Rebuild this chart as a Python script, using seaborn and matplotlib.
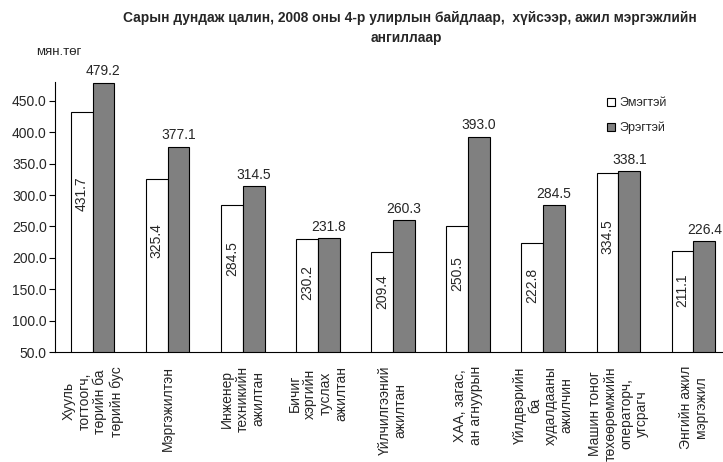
import matplotlib
matplotlib.use("Agg")
import matplotlib.pyplot as plt
import seaborn as sns
import pandas as pd
from matplotlib.patches import Patch

categories = [
    "Хууль\nтогтоогч,\nтөрийн ба\nтөрийн бус",
    "Мэргэжилтэн",
    "Инженер\nтехникийн\nажилтан",
    "Бичиг\nхэргийн\nтуслах\nажилтан",
    "Үйлчилгээний\nажилтан",
    "ХАА, загас,\nан агнуурын",
    "Үйлдвэрийн\nба\nхудалдааны\nажилчин",
    "Машин тоног\nтөхөөрөмжийн\nоператорч,\nугсрагч",
    "Энгийн ажил\nмэргэжил",
]
female = [431.7, 325.4, 284.5, 230.2, 209.4, 250.5, 222.8, 334.5, 211.1]
male = [479.2, 377.1, 314.5, 231.8, 260.3, 393.0, 284.5, 338.1, 226.4]
series = ["Эмэгтэй", "Эрэгтэй"]
yticks = [50, 100, 150, 200, 250, 300, 350, 400, 450]

sns.set_theme(style="white")
plt.rcParams["font.family"] = ["Liberation Sans", "DejaVu Sans"]

df = pd.DataFrame({
    "cat": categories * 2,
    "val": female + male,
    "sex": [series[0]] * len(categories) + [series[1]] * len(categories),
})

fig = plt.figure(figsize=(7.23, 4.62), dpi=100)
ax = fig.add_axes([55 / 723, 1 - 352 / 462, (731 - 55) / 723, (352 - 82) / 462])

sns.barplot(data=df, x="cat", y="val", hue="sex", hue_order=series,
            order=categories, palette={series[0]: "white", series[1]: "#808080"},
            saturation=1, edgecolor="black", linewidth=0.8, width=0.58,
            ax=ax, legend=False, err_kws={"linewidth": 0})

ax.set_ylim(50, 480)
ax.set_xlim(-0.5, len(categories) - 0.5)
ax.set_yticks(yticks)
ax.set_yticklabels([f"{v:.1f}" for v in yticks], fontsize=10)
ax.set_xlabel("")
ax.set_ylabel("")

ax.set_xticks(range(len(categories)))
ax.set_xticklabels(categories, rotation=90, fontsize=10, multialignment="center",
                   linespacing=1.15)
ax.tick_params(axis="x", which="major", length=0, pad=10)
ax.set_xticks([i + 0.5 for i in range(len(categories))], minor=True)
ax.tick_params(axis="x", which="minor", length=4, width=0.8, direction="out", color="black")
ax.tick_params(axis="y", length=4, width=0.8, direction="out", color="black", left=True, pad=2)

for s in ["top", "right"]:
    ax.spines[s].set_visible(False)
for s in ["left", "bottom"]:
    ax.spines[s].set_color("black")
    ax.spines[s].set_linewidth(0.8)

for bar, v in zip(ax.containers[0], female):
    x = bar.get_x() + bar.get_width() / 2
    ax.text(x, 0.7 * v, f"{v:.1f}", rotation=90, ha="center", va="center", fontsize=10)
for bar, v in zip(ax.containers[1], male):
    x = bar.get_x() + bar.get_width() / 2
    ax.annotate(f"{v:.1f}", (x, v), xytext=(0, 3), textcoords="offset points",
                ha="center", va="bottom", fontsize=10, annotation_clip=False)

handles = [Patch(facecolor="white", edgecolor="black", linewidth=0.8),
           Patch(facecolor="#808080", edgecolor="black", linewidth=0.8)]
fig.legend(handles, series, loc="upper left", bbox_to_anchor=(596 / 723, 1 - 86 / 462),
           frameon=False, fontsize=9, handlelength=0.6, handleheight=0.6,
           handletextpad=0.4, labelspacing=1.0)

fig.text(36 / 723, 1 - 52 / 462, "мян.төг", fontsize=9.5, va="center", ha="left")
fig.text(410 / 723, 1 - 18 / 462, "Сарын дундаж цалин, 2008 оны 4-р улирлын байдлаар,  хүйсээр, ажил мэргэжлийн",
         fontsize=9.9, fontweight="bold", ha="center", va="center")
fig.text(406 / 723, 1 - 38 / 462, "ангиллаар", fontsize=9.9, fontweight="bold",
         ha="center", va="center")

fig.savefig("out.png", dpi=100)
